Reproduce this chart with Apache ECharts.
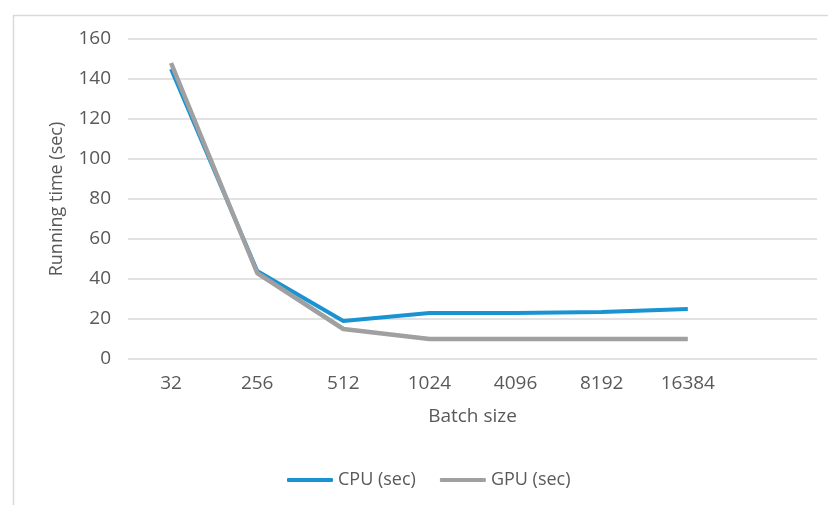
<!DOCTYPE html>
<html>
<head>
<meta charset="utf-8">
<script src="https://cdn.jsdelivr.net/npm/echarts@6/dist/echarts.min.js"></script>
<style>
  html, body { margin: 0; padding: 0; background: #fff; }
  #main { width: 828px; height: 505px; }
</style>
</head>
<body>
<div id="main"></div>
<script>
// batch sizes (last slot is empty, as in the original Excel chart)
var batchSizes = ['32', '256', '512', '1024', '4096', '8192', '16384', ''];
var cpuTime = [145, 44, 19, 23, 23, 23.5, 25];
var gpuTime = [148, 43, 15, 10, 10, 10, 10];

var chart = echarts.init(document.getElementById('main'));

var fontFam = '"Open Sans", "Liberation Sans", sans-serif';

chart.setOption({
  animation: false,
  backgroundColor: '#fff',
  graphic: [{
    type: 'rect',
    left: 11, top: 13,
    shape: { width: 830, height: 500 },
    style: { fill: 'none', stroke: '#d9d9d9', lineWidth: 1.5 },
    silent: true
  }],
  grid: { left: 128, right: 11, top: 39, bottom: 146 },
  legend: {
    bottom: 11,
    left: 282,
    itemWidth: 46,
    itemHeight: 4,
    itemGap: 24,
    icon: 'roundRect',
    textStyle: { color: '#595959', fontSize: 18, fontFamily: fontFam },
    data: ['CPU (sec)', 'GPU (sec)']
  },
  xAxis: {
    type: 'category',
    data: batchSizes,
    boundaryGap: true,
    name: 'Batch size',
    nameLocation: 'middle',
    nameGap: 48,
    nameTextStyle: { color: '#595959', fontSize: 19, fontFamily: fontFam },
    axisLine: { show: false },
    axisTick: { show: false },
    axisLabel: { color: '#595959', fontSize: 19, margin: 15, fontFamily: fontFam }
  },
  yAxis: {
    type: 'value',
    min: 0, max: 160, interval: 20,
    name: 'Running time (sec)',
    nameLocation: 'middle',
    nameGap: 62,
    nameTextStyle: { color: '#595959', fontSize: 18, fontFamily: fontFam },
    axisLabel: { color: '#595959', fontSize: 19, margin: 17, fontFamily: fontFam },
    splitLine: { lineStyle: { color: '#d9d9d9', width: 1.5 } }
  },
  series: [{
    name: 'CPU (sec)',
    type: 'line',
    data: cpuTime,
    symbol: 'none',
    color: '#1a93d3',
    lineStyle: { width: 4, color: '#1a93d3' }
  }, {
    name: 'GPU (sec)',
    type: 'line',
    data: gpuTime,
    symbol: 'none',
    color: '#a0a0a0',
    lineStyle: { width: 4.5, color: '#a0a0a0' }
  }]
});
</script>
</body>
</html>
